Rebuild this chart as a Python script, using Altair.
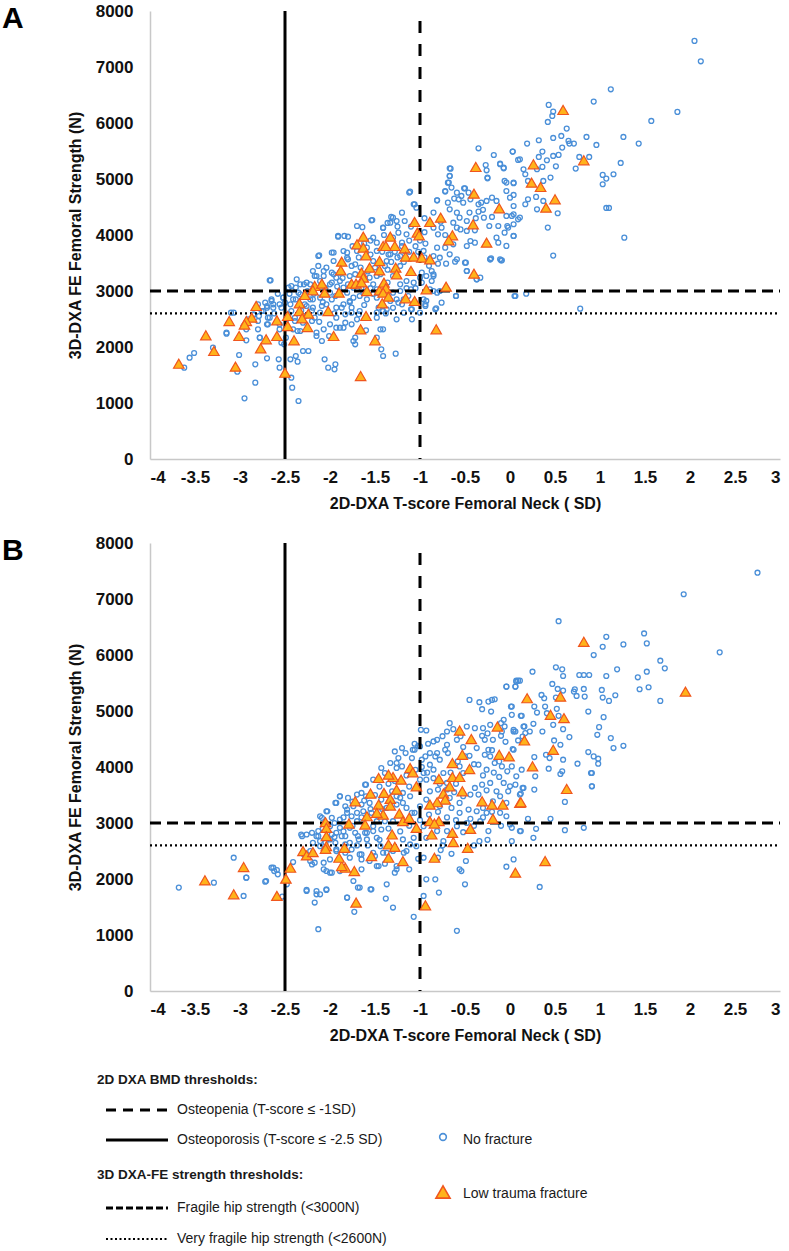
import altair as alt
import pandas as pd

# ---------------- data: (T-score, FE strength N) ----------------
a_no_fracture = [
    (-3.62, 1631), (-3.56, 1809), (-3.51, 1893), (-3.30, 1988), (-3.15, 2238), (-3.10, 2613), (-3.01, 1857),
    (-3.03, 1559), (-2.95, 1083), (-2.93, 2119), (-2.93, 2315), (-2.91, 2494), (-2.85, 2571), (-2.83, 1690),
    (-2.83, 1363), (-2.80, 2464), (-2.79, 2554), (-2.78, 2167), (-2.74, 2643), (-2.72, 2792), (-2.70, 2702),
    (-2.70, 1797), (-2.69, 2405), (-2.69, 2524), (-2.65, 2851), (-2.66, 3190), (-2.63, 2762), (-2.57, 1780),
    (-2.56, 1631), (-2.56, 2315), (-2.54, 2077), (-2.54, 2702), (-2.52, 2881), (-2.51, 2048), (-2.50, 2792),
    (-2.49, 2167), (-2.46, 2583), (-2.44, 1780), (-2.43, 1452), (-2.42, 1274), (-2.38, 1839), (-2.36, 1738),
    (-2.35, 1036), (-2.39, 2524), (-2.41, 2315), (-2.36, 2286), (-2.38, 3060), (-2.33, 2940), (-2.29, 3119),
    (-2.30, 1929), (-2.24, 1929), (-2.26, 2732), (-2.20, 2464), (-2.19, 2851), (-2.17, 3268), (-2.13, 3625),
    (-2.15, 2196), (-2.09, 2107), (-2.09, 2732), (-2.07, 3357), (-2.06, 1780), (-2.02, 1631), (-2.01, 2196),
    (-1.98, 3685), (-1.96, 3298), (-1.95, 1601), (-1.94, 1690), (-1.93, 2345), (-1.87, 2702), (-1.85, 3714),
    (-1.83, 2434), (-1.80, 3566), (-1.78, 2821), (-1.74, 2107), (-1.72, 2048), (-1.76, 2613), (-1.68, 2583),
    (-1.63, 2970), (-1.60, 2298), (-1.48, 2613), (-1.44, 2315), (-1.43, 1958), (-1.41, 1839), (-1.41, 2732),
    (-1.37, 2673), (-1.27, 1881), (-1.26, 2494), (-1.24, 2792),
    (-1.91, 3983), (-1.84, 3983), (-1.53, 4268), (-1.64, 4140), (-1.41, 4126), (-1.36, 4215), (-1.32, 4322),
    (-1.26, 4250),
    (-0.35, 5548), (-0.18, 5429), (0.03, 5489), (0.09, 5340), (-0.11, 5274), (-0.07, 5191), (-0.27, 5250),
    (-0.26, 5155), (-0.25, 5012), (-0.66, 5185), (-0.67, 5054), (-0.69, 4935), (-0.72, 4786), (-0.65, 4846),
    (-0.59, 4756), (-0.50, 4834), (-0.46, 4756), (-0.57, 4637), (-0.52, 4578), (-0.44, 4637), (-0.35, 4548),
    (-0.32, 4578), (-0.26, 4608), (-0.20, 4667), (-0.15, 4608), (-0.06, 4965), (0.04, 4935), (-0.04, 4786),
    (0.00, 4667), (0.04, 4518), (-0.04, 4340), (0.02, 4340), (0.09, 4280), (-0.20, 4322), (-0.29, 4310),
    (-0.35, 4417), (-0.48, 4250), (-0.56, 4310), (-0.59, 4399), (-0.67, 4458), (-0.81, 4619), (-0.69, 4578),
    (-0.77, 4238), (-0.85, 4131), (-0.80, 4012), (-0.76, 4131), (-0.63, 4220), (-0.59, 4131), (-0.48, 4072),
    (-0.39, 4084), (-0.23, 4161), (-0.13, 4161), (-0.03, 4161), (0.04, 3982), (-0.06, 4042), (-0.15, 3953),
    (-0.44, 3893), (-0.48, 3804), (-0.39, 3863), (-0.63, 3834), (-0.72, 3774), (-0.81, 3774), (-0.94, 3846),
    (-0.96, 3715), (-0.85, 3625), (-0.78, 3595), (-0.67, 3655), (-0.61, 3524), (-0.71, 3488), (-0.80, 3488),
    (-0.50, 3506), (-0.22, 3566), (-0.10, 3548), (-0.33, 3238), (-0.37, 3209), (-0.48, 3357), (-0.87, 3357),
    (-0.85, 3268), (-0.93, 3268), (-1.00, 3238), (-0.98, 3328), (-1.07, 3149), (-1.10, 3030), (-0.85, 3000),
    (-0.78, 3000), (-0.60, 2911), (0.05, 2911), (-0.82, 2691), (-0.93, 2822), (-0.94, 2732), (-1.00, 2613),
    (-1.09, 2673), (-1.13, 2911), (-1.22, 3000), (-1.22, 3119), (-1.15, 3179), (-1.06, 4548), (-1.04, 4488),
    (-1.11, 4774), (-1.20, 4399), (-1.17, 4250), (-1.30, 4310), (-1.33, 4220), (-1.41, 4131), (-1.54, 4262),
    (-1.70, 4161), (-1.80, 3970), (-1.91, 3970), (-1.52, 3953), (-1.48, 3863), (-1.30, 3953), (-1.24, 4042),
    (-1.15, 4012), (-1.20, 3863), (-1.17, 3715), (-1.22, 3625), (-1.33, 3655), (-1.48, 3715), (-1.59, 3774),
    (-1.70, 3715), (-1.81, 3685), (-1.81, 3595), (-1.96, 3685), (-1.96, 3536), (-2.12, 3637), (-2.13, 3447),
    (-2.04, 3417), (-1.98, 3328), (-1.89, 3328), (-1.76, 3447), (-1.72, 3476), (-1.52, 3536), (-1.37, 3536),
    (-1.39, 3447), (-1.22, 3447), (-1.30, 3268), (-1.48, 3268), (-1.56, 3238), (-1.78, 3268), (-1.93, 3238),
    (-2.07, 3268), (-2.15, 3268), (-2.19, 3357), (-2.26, 3149), (-2.33, 3119), (-2.37, 3209), (-2.43, 3089),
    (-2.46, 3060), (-2.67, 3191), (-2.35, 2970), (-2.22, 3119), (-2.11, 3179), (-2.00, 3119), (-1.89, 3179),
    (-1.85, 3060), (-1.74, 3060), (-1.52, 3119), (-1.48, 3030), (-1.30, 2970), (-1.26, 2851), (-1.33, 2822),
    (-1.48, 2881), (-1.59, 2851), (-1.67, 2911), (-1.74, 2881), (-1.81, 2970), (-1.94, 2911), (-2.00, 2970),
    (-2.11, 2881), (-2.22, 2851), (-2.28, 2762), (-2.41, 2851), (-2.44, 2762), (-2.52, 2881), (-2.56, 2762),
    (-2.65, 2822), (-2.70, 2732), (-2.63, 2702), (-2.76, 2643), (-2.80, 2762), (-2.85, 2584), (-3.07, 2613),
    (-3.15, 2256), (-2.96, 2375), (-2.80, 2316), (-2.70, 2405), (-2.67, 2524), (-2.56, 2405), (-2.43, 2643),
    (-2.39, 2464), (-2.30, 2435), (-2.17, 2524), (-2.11, 2613), (-2.19, 2703), (-2.04, 2762), (-1.93, 2703),
    (-1.85, 2762), (-1.76, 2703), (-1.67, 2643), (-1.83, 2584), (-1.93, 2524), (-2.00, 2405), (-2.07, 2316),
    (-2.15, 2256), (-1.89, 2345), (-1.76, 2405), (-1.70, 2494), (-1.48, 2524), (-1.41, 2643), (-1.46, 2703),
    (-1.20, 2762), (-1.18, 2613), (-1.09, 2494), (-1.41, 2316), (-1.48, 2167), (-1.85, 2345), (-1.72, 2167),
    (-2.33, 2286), (-2.78, 2167),
    (2.05, 7466), (2.12, 7102), (1.12, 6602), (0.93, 6382), (0.43, 6323), (0.48, 6204), (0.47, 6126),
    (0.42, 6019), (0.63, 5900), (1.86, 6198), (1.57, 6037), (1.26, 5751), (1.43, 5632), (0.85, 5751),
    (0.96, 5608), (0.57, 5769), (0.48, 5733), (0.65, 5680), (0.66, 5632), (0.71, 5632), (0.58, 5561),
    (0.54, 5430), (0.51, 5227), (0.45, 5025), (0.36, 5489), (0.19, 5632), (0.32, 5692), (0.03, 5489),
    (0.77, 5394), (0.88, 5394), (0.73, 5186), (1.23, 5287), (1.15, 5085), (1.03, 5073), (1.07, 5007),
    (1.03, 4906), (1.07, 4483), (1.10, 4483), (1.27, 3953), (0.53, 4388), (0.42, 4132), (0.48, 3632),
    (0.48, 5412), (0.41, 5335), (0.32, 5394), (0.36, 5216), (0.30, 5174), (0.11, 5352), (0.17, 5085),
    (0.15, 5174), (0.20, 4965), (0.04, 4924), (0.04, 4715), (-0.04, 4936), (0.20, 4638), (0.29, 4680),
    (0.30, 4459), (0.37, 4965), (0.37, 4608), (0.17, 4549), (0.11, 4311), (0.04, 4370), (0.04, 4192),
    (-0.02, 4132), (0.04, 3983), (-0.04, 3805), (-0.11, 3566), (-0.21, 3584), (-0.11, 5263), (-0.07, 5203),
    (-0.25, 5025), (-0.51, 4834), (-0.54, 4697), (-0.67, 5192), (-0.67, 5055), (-0.68, 4936), (-0.72, 4775),
    (-0.81, 4620), (-1.12, 4757), (-1.07, 4549),
    (-0.22, 3566), (-0.09, 3548), (-0.13, 3863), (-0.37, 3208), (-0.48, 3357), (-0.49, 3506), (-0.59, 3566),
    (-0.60, 2911), (-0.85, 3298), (-0.87, 3179), (-0.89, 3030), (-0.81, 2970), (-0.76, 2792), (-0.83, 2673),
    (0.06, 2911), (0.18, 2952), (0.78, 2685), (-0.94, 2762), (-0.96, 2851), (-1.10, 2673),
    # densest part of the cloud
    (-2.25, 3000), (-2.18, 2950), (-2.05, 3050), (-1.98, 3150), (-1.92, 3080), (-1.86, 3230), (-1.80, 3120),
    (-1.72, 3300), (-1.66, 3420), (-1.58, 3350), (-1.50, 3420), (-1.44, 3300), (-1.36, 3380), (-1.32, 3520),
    (-1.25, 3600), (-1.18, 3520), (-1.12, 3700), (-1.05, 3800), (-1.00, 3900), (-0.95, 4050), (-1.10, 4150),
    (-1.25, 4150), (-1.40, 4000), (-1.55, 3900), (-1.62, 3850), (-1.75, 3800), (-1.68, 3600), (-1.55, 3650),
    (-1.42, 3700), (-1.35, 3650), (-1.28, 3700), (-1.20, 3800), (-1.12, 3900), (-1.02, 3700), (-0.95, 3600),
    (-0.90, 3450), (-0.98, 3150), (-1.05, 3050), (-1.15, 3050), (-1.36, 3150), (-1.55, 3050), (-1.65, 3050),
    (-1.78, 2800), (-1.98, 2850), (-2.08, 2800), (-2.20, 2650), (-2.32, 2650), (-2.38, 2850), (-2.45, 2950),
    (-2.58, 2950), (-2.62, 2600), (-2.48, 2500), (-2.28, 2550), (-2.12, 2450), (-1.95, 2600), (-1.62, 2750),
    (-1.52, 2950), (-1.38, 2600), (-1.30, 2700), (-1.18, 2850), (-0.72, 4000), (-0.55, 4100), (-0.45, 4400),
    (-0.38, 4300), (-0.30, 4450), (-0.62, 4650), (-0.85, 4400), (-0.95, 4300),
]

a_fracture = [
    (-0.38, 5215), (-0.40, 4738), (-0.12, 4477), (-0.41, 4191), (-0.26, 3864), (-0.40, 3310), (-0.77, 4310),
    (-0.89, 4233), (-1.06, 4233), (-1.03, 4042), (-1.01, 3995), (-0.64, 3995), (-0.68, 3906), (-1.63, 3971),
    (-1.70, 3834), (-1.63, 3774), (-1.41, 3804), (-1.33, 3971), (-1.28, 3804), (-1.38, 3804), (-1.17, 3762),
    (-1.60, 3637), (-1.87, 3524), (-1.88, 3369), (-1.56, 3417), (-1.45, 3536), (-1.45, 3369), (-1.65, 3328),
    (-1.63, 3238), (-1.27, 3417), (-1.26, 3298), (-1.16, 3614), (-1.07, 3614), (-0.98, 3596), (-0.89, 3566),
    (-1.10, 3358), (-1.76, 3131), (-1.71, 3131), (-1.65, 3155), (-2.17, 3090), (-2.09, 3131), (-2.19, 3012),
    (-2.06, 2970), (-1.90, 2970), (-1.59, 3000), (-1.45, 3012), (-1.40, 3149), (-1.38, 3050), (-1.41, 2970),
    (-1.35, 2899), (-1.42, 2780), (-1.16, 2870), (-1.06, 2822), (-0.93, 3030), (-0.71, 3078), (-2.28, 2929),
    (-2.34, 2780), (-2.34, 2643), (-2.24, 2595), (-2.31, 2512), (-2.47, 2554), (-2.47, 2375), (-2.59, 2477),
    (-2.25, 2357), (-2.02, 2643), (-1.60, 2554), (-1.66, 2316), (-1.96, 2197), (-0.82, 2316), (-2.82, 2733),
    (-2.87, 2524), (-2.93, 2464), (-2.95, 2400), (-3.12, 2464), (-3.01, 2197), (-2.59, 2197),
    (-3.68, 1702), (-3.38, 2209), (-3.29, 1929), (-3.05, 1649), (-2.77, 1977), (-2.71, 2138), (-2.50, 1541),
    (-1.66, 1482), (-2.40, 2120), (-1.50, 2120),
    (0.59, 6233), (0.26, 5263), (0.24, 4935), (0.34, 4858), (0.82, 5335), (0.50, 4638), (0.40, 4488),
]

b_no_fracture = [
    (-3.68, 1846), (-3.29, 1935), (-3.07, 2380), (-2.93, 2024), (-2.96, 1697), (-2.72, 1953), (-2.65, 2202),
    (-2.62, 2142), (-2.58, 2083), (-2.53, 1686), (-2.48, 1905), (-2.41, 2303), (-2.32, 2795), (-2.29, 2439),
    (-2.26, 1786), (-2.22, 2498), (-2.20, 2261), (-2.19, 2469), (-2.17, 1579), (-2.15, 1786), (-2.13, 1104),
    (-2.11, 1727), (-2.09, 3092), (-2.13, 2765), (-2.11, 2587), (-2.07, 2172), (-2.04, 1804), (-2.03, 3210),
    (-2.00, 2113), (-1.98, 2795), (-1.94, 3359), (-1.93, 2528), (-1.89, 3477), (-1.89, 2142), (-1.87, 2765),
    (-1.83, 2617), (-1.81, 1667), (-1.81, 3240), (-1.78, 2380), (-1.76, 3121), (-1.74, 1964), (-1.73, 1413),
    (-1.69, 2765), (-1.67, 1846), (-1.65, 2439), (-1.60, 3685), (-1.59, 2825), (-1.55, 1816), (-1.52, 2943),
    (-1.50, 2409), (-1.46, 2231), (-1.38, 1650), (-1.37, 2469), (-1.30, 1490), (-1.28, 2113), (-1.26, 2172),
    (-0.04, 5435), (0.06, 5435), (0.07, 5524), (0.09, 5542), (-0.45, 5198), (-0.34, 5157), (-0.24, 5168),
    (-0.20, 5198), (-0.17, 5210), (-0.31, 5032), (-0.21, 4990), (0.01, 5079), (0.12, 4913), (-0.07, 4842),
    (-0.10, 4783), (-0.22, 4753), (-0.30, 4694), (-0.39, 4694), (-0.48, 4723), (-0.67, 4783), (-0.70, 4634),
    (-0.63, 4676), (-0.81, 4486), (-0.72, 4308), (-0.59, 4486), (-0.52, 4356), (-0.31, 4557), (-0.28, 4486),
    (-0.19, 4486), (-0.10, 4557), (0.04, 4664), (0.06, 4634), (0.15, 4723), (0.17, 4605), (-0.24, 4308),
    (-0.37, 4338), (-0.28, 4219), (-0.22, 4189), (0.04, 4308), (-0.09, 4011), (-0.17, 4071), (-0.26, 3952),
    (-0.35, 4041), (0.02, 4011), (0.13, 3952), (0.07, 3834), (-0.03, 3923), (-0.12, 3822), (-0.22, 3715),
    (-0.31, 3685), (-0.39, 3626), (-0.44, 3507), (-0.35, 3507), (-0.26, 3584), (-0.15, 3566), (0.00, 3655),
    (0.06, 3685), (0.15, 3626), (0.11, 3507), (-0.04, 3359), (-0.19, 3388), (-0.30, 3270), (-0.37, 3210),
    (-0.46, 3240), (-0.56, 3181), (-0.44, 3074), (-0.33, 3032), (-0.26, 3181), (-0.11, 3181), (-0.04, 3121),
    (0.00, 2973), (0.12, 2855), (0.02, 2676), (-0.24, 2855), (-0.34, 2676), (-0.49, 2321), (-0.56, 2172),
    (-0.50, 1905), (-0.04, 2220), (0.04, 2350), (-0.77, 2516), (-0.80, 2380), (-0.96, 2380), (-1.02, 2362),
    (-0.93, 1994), (-0.83, 1994), (-0.79, 1757), (-0.96, 1697), (-1.12, 2172), (-1.18, 2469), (-1.11, 2617),
    (-1.04, 2587), (-1.19, 2706), (-1.07, 2736), (-0.93, 2736), (-0.74, 2676), (-0.70, 2855), (-0.59, 2943),
    (-0.52, 2836), (-0.81, 2855), (-0.96, 2943), (-1.06, 3181), (-1.00, 3299), (-0.93, 3418), (-0.89, 3566),
    (-0.80, 3596), (-0.70, 3715), (-0.74, 3893), (-0.85, 3952), (-0.96, 3893), (-1.00, 3774), (-0.93, 3774),
    (-0.89, 4041), (-0.83, 4189), (-0.89, 4249), (-0.81, 4249), (-0.94, 4189), (-0.98, 4130), (-1.00, 4367),
    (-1.06, 4308), (-1.09, 4160), (-1.16, 4249), (-1.20, 4338), (-1.28, 4278), (-1.24, 4160), (-1.33, 4071),
    (-1.26, 3982), (-1.20, 4011), (-1.08, 4308), (-0.93, 4652), (-1.02, 4379), (-1.26, 4071), (-1.43, 3982),
    (-1.39, 3893), (-1.52, 3774), (-1.61, 3685), (-1.65, 3537), (-1.60, 3478), (-1.70, 3507), (-1.80, 3448),
    (-1.89, 3478), (-1.93, 3359), (-1.83, 3299), (-1.74, 3299), (-1.65, 3329), (-1.56, 3359), (-1.43, 3418),
    (-1.37, 3270), (-1.26, 3329), (-1.15, 3270), (-1.09, 3181), (-1.19, 3359), (-1.11, 3478), (-1.19, 3537),
    (-1.26, 3478), (-1.31, 3566), (-2.04, 3210), (-2.11, 3121), (-1.98, 3092), (-1.89, 3062), (-1.81, 3181),
    (-1.70, 3181), (-1.63, 3210), (-1.54, 3181), (-1.48, 3032), (-1.39, 3032), (-1.30, 3032), (-1.70, 3032),
    (-1.78, 2914), (-1.89, 2914), (-2.00, 2943), (-1.93, 2825), (-1.83, 2765), (-1.72, 2825), (-1.61, 2825),
    (-1.52, 2855), (-1.43, 2884), (-1.48, 2736), (-1.59, 2706), (-1.68, 2706), (-1.78, 2647), (-1.94, 2647),
    (-2.00, 2706), (-2.13, 2855), (-2.20, 2825), (-2.15, 2765), (-2.26, 2795), (-2.31, 2765), (-2.11, 2676),
    (-2.19, 2647), (-1.93, 2498), (-1.83, 2469), (-1.76, 2528), (-1.67, 2439), (-1.52, 2469), (-1.44, 2587),
    (-1.41, 2469), (-1.56, 2321), (-1.65, 2350), (-2.00, 2350), (-2.07, 2291), (-2.17, 2291), (-2.22, 2321),
    (-1.98, 2113), (-2.04, 2143), (-1.65, 2172), (-1.48, 2231), (-1.26, 2231), (-1.69, 1846), (-1.81, 1668),
    (-1.54, 1816), (-1.37, 1905), (-2.15, 1727), (-2.26, 1805), (-2.04, 1816), (-2.63, 2202), (-2.59, 2161),
    (-2.71, 1964), (-2.93, 2024), (-0.99, 4664), (-1.06, 4415), (-0.91, 4415), (-0.85, 4456), (-0.70, 4397),
    (-0.69, 4249), (-0.50, 4189), (-0.78, 4130), (-0.56, 4011), (-0.52, 3893), (-0.67, 3448), (-0.78, 3299),
    (-0.65, 3270), (-0.56, 3359), (-0.52, 3478), (-0.11, 3478), (-0.07, 3715),
    (1.93, 7085), (0.54, 6604), (1.07, 6325), (1.49, 6385), (1.52, 6207), (1.03, 6147), (1.26, 6189),
    (0.93, 5999), (2.33, 6047), (1.67, 5898), (1.72, 5762), (1.19, 5744), (1.52, 5702), (1.42, 5602),
    (1.54, 5424), (1.44, 5388), (1.67, 5180), (1.17, 5281), (1.10, 5180), (1.07, 5625), (0.77, 5643),
    (0.82, 5643), (0.88, 5643), (1.02, 5376), (1.03, 5240), (0.83, 5257), (0.82, 5394), (0.74, 5269),
    (0.71, 5346), (0.72, 5388), (0.51, 5780), (0.58, 5744), (0.59, 5625), (0.47, 5483), (0.53, 5394),
    (0.59, 5364), (0.25, 5702), (-0.04, 5436), (0.06, 5436), (0.07, 5542), (0.11, 5542), (0.35, 5287),
    (0.38, 5228), (0.51, 5240), (0.27, 5079), (0.39, 5079), (0.52, 5038), (0.30, 4972), (0.02, 5079),
    (0.02, 4931), (0.13, 4913), (0.41, 4961), (0.54, 4913), (0.87, 4990), (1.04, 4890), (0.99, 4712),
    (0.97, 4575), (1.12, 4516), (1.15, 4338), (1.26, 4379), (0.66, 4534), (0.56, 4397), (0.48, 4753),
    (0.59, 4676), (0.36, 4634), (0.26, 4771), (0.16, 4724), (0.22, 4634), (-0.06, 4724), (-0.09, 4634),
    (0.04, 4634), (0.09, 4474), (0.14, 4545), (0.03, 4320), (0.49, 4474), (0.40, 4219), (0.44, 4160),
    (0.27, 4178), (0.59, 4130), (0.87, 4267), (0.93, 4189), (0.98, 4148), (0.98, 4059), (0.75, 4059),
    (0.91, 3893), (0.91, 3656), (0.58, 3923), (0.56, 3875), (0.43, 3970), (0.28, 3834), (0.27, 3596),
    (0.14, 3626), (-0.02, 3566), (0.12, 3525), (0.61, 3377), (0.45, 3074), (0.20, 3074), (0.29, 2896),
    (0.02, 2914), (0.11, 2855), (0.61, 2872), (0.82, 2914), (0.26, 2736), (2.75, 7470),
    (0.90, 3893), (0.91, 3655), (0.33, 1858), (-0.54, 2142), (-0.59, 1074), (-1.07, 1324), (-1.39, 2273),
    # densest part of the cloud
    (-2.08, 2900), (-1.95, 3000), (-1.85, 3100), (-1.75, 3380), (-1.62, 3400), (-1.50, 3500), (-1.45, 3650),
    (-1.35, 3700), (-1.28, 3750), (-1.15, 3850), (-1.05, 3950), (-0.98, 4000), (-0.92, 3900), (-0.85, 3800),
    (-0.78, 3700), (-0.70, 3600), (-0.62, 3550), (-0.60, 3700), (-0.66, 3900), (-0.58, 4100), (-0.45, 4200),
    (-0.40, 4050), (-0.30, 3850), (-0.18, 3900), (-0.12, 4100), (-0.20, 4300), (-0.05, 4450), (-0.25, 4600),
    (-0.55, 4550), (-0.75, 4550), (-1.12, 3650), (-1.22, 3450), (-1.32, 3400), (-1.42, 3250), (-1.55, 3250),
    (-1.65, 3100), (-1.75, 2950), (-1.85, 2850), (-1.95, 2750), (-2.05, 2650), (-1.70, 2600), (-1.58, 2600),
    (-1.45, 2700), (-1.35, 2900), (-1.22, 2850), (-1.12, 2950), (-1.00, 3050), (-0.90, 3150), (-0.80, 3200),
    (-0.70, 3100), (-0.60, 3050), (-0.48, 3000), (-0.40, 2950), (-0.30, 3100), (-0.20, 3200), (-0.10, 2950),
    (-0.75, 2600), (-0.65, 2450), (-0.40, 2600), (-0.25, 2700), (-1.15, 2500), (-1.30, 2500),
]

b_fracture = [
    (0.19, 5228), (-0.56, 4652), (-0.14, 4723), (-0.43, 4498), (0.16, 4474), (-0.53, 4219), (-0.12, 4219),
    (-0.01, 4189), (-0.64, 4071), (-0.45, 3964), (-1.11, 3982), (-1.08, 3905), (-0.79, 3786), (-0.64, 3822),
    (-0.56, 3822), (-0.67, 3655), (-0.53, 3566), (-0.74, 3525), (-0.72, 3418), (-0.81, 3371), (-0.89, 3329),
    (-1.04, 3655), (-1.26, 3596), (-1.21, 3774), (-1.30, 3822), (-1.35, 3863), (-1.46, 3804), (-1.40, 3537),
    (-1.55, 3525), (-1.72, 3388), (-1.46, 3329), (-1.33, 3430), (-1.33, 3311), (-1.23, 3169), (-1.19, 3033),
    (-1.12, 3092), (-1.04, 2914), (-1.41, 3151), (-1.48, 3181), (-1.59, 3121), (-1.61, 2973), (-1.79, 2991),
    (-2.05, 3015), (-2.04, 2914), (-2.04, 2765), (-2.04, 2587), (-2.05, 2540), (-1.31, 2795), (-1.35, 2617),
    (-1.28, 2575), (-0.89, 3033), (-0.79, 3033), (-0.84, 2991), (-0.87, 2795), (-0.64, 2825), (-0.63, 2659),
    (-0.44, 2896), (-0.47, 2558), (-0.31, 3388), (-0.20, 3329), (-0.08, 3329), (-0.19, 3074), (0.11, 3359),
    (0.06, 2113), (-0.84, 2380), (-1.19, 2321), (-1.35, 2380), (-1.54, 2409), (-1.73, 2143), (-1.83, 2202),
    (-1.87, 2232), (-1.90, 2380), (-1.84, 2558), (-2.30, 2498), (-2.26, 2422), (-2.19, 2481), (-2.44, 2202),
    (-2.49, 2006), (-2.96, 2214), (-2.59, 1698),
    (-3.39, 1976), (-3.07, 1727), (-1.71, 1579),
    (0.82, 6236), (1.95, 5346), (0.56, 5257), (0.45, 4931), (0.60, 4872), (0.48, 4308), (0.25, 4012),
    (0.63, 3608), (0.12, 3371), (0.39, 2320), (-0.94, 1531),
]

# axis ticks
x_ticks = [-4, -3.5, -3, -2.5, -2, -1.5, -1, -0.5, 0, 0.5, 1, 1.5, 2, 2.5, 3]
y_ticks = [0, 1000, 2000, 3000, 4000, 5000, 6000, 7000, 8000]

# clinical thresholds
osteoporosis_t = -2.5
osteopenia_t = -1.0
fragile_n = 3000
very_fragile_n = 2600

# ---------------- styling ----------------
SANS = "Liberation Sans"
BLUE = "#4A8FD8"
TRI_FILL = "#FFB31A"
TRI_STROKE = "#F0561E"

W, H = 630, 448

xs = alt.Scale(domain=[-4, 3], nice=False, zero=False)
ys = alt.Scale(domain=[0, 8000], nice=False)

x_axis = alt.Axis(
    values=x_ticks, labelExpr="datum.value + ''", title="2D-DXA T-score Femoral Neck ( SD)",
    grid=False, ticks=False, tickSize=0, domainColor="#C8C8C8", domainWidth=1.5,
    labelFont=SANS, labelFontWeight="bold", labelFontSize=17, labelColor="#111",
    labelPadding=10, titleFont=SANS, titleFontWeight="bold", titleFontSize=16,
    titleColor="#111", titlePadding=10,
)
y_axis = alt.Axis(
    values=y_ticks, labelExpr="datum.value + ''", title="3D-DXA FE Femoral Strength (N)",
    grid=False, ticks=False, tickSize=0, domainColor="#C8C8C8", domainWidth=1.5,
    labelFont=SANS, labelFontWeight="bold", labelFontSize=17, labelColor="#111",
    labelPadding=17, titleFont=SANS, titleFontWeight="bold", titleFontSize=16,
    titleColor="#111", titlePadding=12,
)


def X(field):
    return alt.X(field, type="quantitative", scale=xs, axis=x_axis)


def Y(field):
    return alt.Y(field, type="quantitative", scale=ys, axis=y_axis)


one = pd.DataFrame({"k": [0]})


def label(text, x, y, size=14, weight="normal", font=SANS, color="#1a1a1a", baseline="middle"):
    return alt.Chart(one).mark_text(
        text=text, font=font, fontSize=size, fontWeight=weight, color=color,
        align="left", baseline=baseline,
    ).encode(x=alt.value(x), y=alt.value(y))


def sample_line(x1, x2, y, width, dash=None):
    kw = dict(color="black", strokeWidth=width)
    if dash:
        kw["strokeDash"] = dash
    return alt.Chart(one).mark_rule(**kw).encode(x=alt.value(x1), x2=alt.value(x2), y=alt.value(y))


def panel(letter, no_frac, frac, legend=False):
    circles = alt.Chart(pd.DataFrame(no_frac, columns=["t", "f"])).mark_point(
        shape="circle", filled=False, size=24, strokeWidth=1.3, color=BLUE, opacity=1
    ).encode(x=X("t"), y=Y("f"))

    triangles = alt.Chart(pd.DataFrame(frac, columns=["t", "f"])).mark_point(
        shape="triangle-up", filled=True, size=110, fill=TRI_FILL, stroke=TRI_STROKE,
        strokeWidth=1.2, opacity=1
    ).encode(x=X("t"), y=Y("f"))

    v_solid = alt.Chart(pd.DataFrame({"t": [osteoporosis_t], "lo": [0], "hi": [8000]})).mark_rule(
        color="black", strokeWidth=3
    ).encode(x=X("t"), y=Y("lo"), y2="hi")
    v_dash = alt.Chart(pd.DataFrame({"t": [osteopenia_t], "lo": [0], "hi": [7820]})).mark_rule(
        color="black", strokeWidth=3, strokeDash=[12, 11]
    ).encode(x=X("t"), y=Y("hi"), y2="lo")
    h_dash = alt.Chart(pd.DataFrame({"f": [fragile_n], "a": [-4], "b": [3]})).mark_rule(
        color="black", strokeWidth=3, strokeDash=[11, 6]
    ).encode(y=Y("f"), x=X("a"), x2="b")
    h_dot = alt.Chart(pd.DataFrame({"f": [very_fragile_n], "a": [-4], "b": [2.97]})).mark_rule(
        color="black", strokeWidth=2.2, strokeDash=[2, 3]
    ).encode(y=Y("f"), x=X("a"), x2="b")

    tag = label(letter, -148, 17, size=30, weight="bold", color="black", baseline="alphabetic")

    layers = [circles, v_solid, v_dash, h_dash, h_dot, triangles, tag]

    if legend:
        layers += [
            label("2D DXA BMD thresholds:", -53, 537, size=13.5, weight="bold"),
            sample_line(-44, 18, 567, 3, [10, 7]),
            label("Osteopenia (T-score \u2264 -1SD)", 27, 567),
            sample_line(-44, 18, 597, 3),
            label("Osteoporosis (T-score \u2264 -2.5 SD)", 27, 597),
            label("3D DXA-FE strength thresholds:", -53, 632, size=13.5, weight="bold"),
            sample_line(-44, 18, 665, 3, [7, 3]),
            label("Fragile hip strength (<3000N)", 27, 665),
            sample_line(-44, 18, 696, 2.2, [2, 2.5]),
            label("Very fragile hip strength (<2600N)", 27, 696),
            alt.Chart(one).mark_point(shape="circle", filled=False, size=45, strokeWidth=1.6,
                                      color=BLUE, opacity=1).encode(x=alt.value(293), y=alt.value(594)),
            label("No fracture", 313, 597),
            alt.Chart(one).mark_point(shape="triangle-up", filled=True, size=200, fill=TRI_FILL,
                                      stroke=TRI_STROKE, strokeWidth=1.6, opacity=1
                                      ).encode(x=alt.value(293), y=alt.value(649)),
            label("Low trauma fracture", 313, 651),
        ]

    return alt.layer(*layers).properties(width=W, height=H)


chart = alt.vconcat(
    panel("A", a_no_fracture, a_fracture),
    panel("B", b_no_fracture, b_fracture, legend=True),
    spacing=23,
).properties(
    padding={"left": 2, "top": 2, "right": 2, "bottom": 0},
    background="white",
).configure_view(strokeWidth=0)

chart.save("out.html", embed_options={"renderer": "svg", "actions": False})
